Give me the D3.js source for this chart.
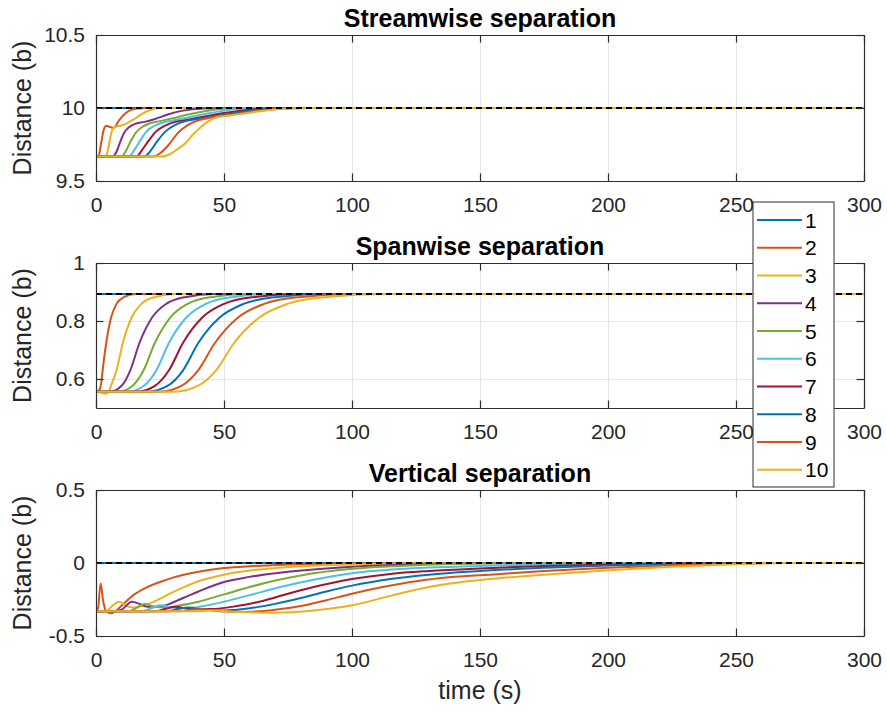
<!DOCTYPE html>
<html>
<head>
<meta charset="utf-8">
<script src="https://cdn.jsdelivr.net/npm/d3@7"></script>
<style>
  body { margin: 0; background: #fff; }
  svg { font-family: "Liberation Sans", Arial, Helvetica, sans-serif; }
  .grid line { stroke: #e6e6e6; stroke-width: 1; }
  .grid .domain { display: none; }
  .frame .domain, .frame line { stroke: #2e2e2e; stroke-width: 1.2; }
  .frame text { fill: #262626; font-size: 21px; }
</style>
</head>
<body>
<div id="chart"></div>
<script>
// ---- data ----
var timeTicks = [0, 50, 100, 150, 200, 250, 300];
var seriesNames = ["1", "2", "3", "4", "5", "6", "7", "8", "9", "10"];
var seriesColors = ["#0072BD", "#D95319", "#EDB120", "#7E2F8E", "#77AC30",
                    "#4DBEEE", "#A2142F", "#0072BD", "#D95319", "#EDB120"];

var streamTicks = [9.5, 10, 10.5];
var spanTicks = [0.6, 0.8, 1];
var vertTicks = [-0.5, 0, 0.5];

var streamTarget = 10;
var spanTarget = 0.893;
var vertTarget = 0;

// [time, distance] for each vehicle
var streamwise = [
  [[0,10],[300,10]],
  [[0,9.668],[1,9.67],[2,9.76],[3,9.85],[4,9.878],[5.5,9.87],[7,9.865],[9,9.915],[11,9.955],[13,9.982],[16,9.997],[20,10],[300,10]],
  [[0,9.668],[3.5,9.668],[4.5,9.70],[5.5,9.79],[6.5,9.855],[8,9.872],[10,9.88],[12.5,9.9],[15,9.925],[18,9.96],[21,9.985],[25,10],[300,10]],
  [[0,9.668],[6.5,9.668],[8,9.7],[9.5,9.77],[11,9.83],[13,9.87],[15,9.89],[19,9.905],[23,9.925],[28,9.955],[34,9.982],[42,9.997],[50,10],[300,10]],
  [[0,9.668],[10,9.668],[11.5,9.7],[13.5,9.77],[15.5,9.83],[18,9.87],[21,9.895],[25,9.91],[30,9.93],[36,9.955],[43,9.98],[50,9.995],[58,10],[300,10]],
  [[0,9.668],[13,9.668],[14.5,9.7],[17,9.77],[19.5,9.835],[22.5,9.875],[26,9.9],[30,9.915],[36,9.935],[43,9.96],[50,9.982],[58,9.996],[65,10],[300,10]],
  [[0,9.668],[16,9.668],[17.5,9.7],[20.5,9.775],[23.5,9.84],[27,9.88],[31,9.905],[36,9.92],[42,9.94],[50,9.965],[58,9.985],[66,9.997],[72,10],[300,10]],
  [[0,9.668],[19,9.668],[21,9.7],[24,9.775],[27.5,9.845],[31,9.885],[35,9.91],[40,9.925],[47,9.945],[55,9.968],[63,9.988],[72,9.998],[78,10],[300,10]],
  [[0,9.668],[22.5,9.668],[25,9.69],[28.5,9.75],[32,9.83],[36,9.885],[40,9.915],[45,9.935],[52,9.95],[60,9.972],[68,9.99],[76,9.998],[82,10],[300,10]],
  [[0,9.668],[26,9.668],[29,9.685],[32,9.72],[35,9.76],[38,9.82],[41,9.87],[44,9.91],[47,9.935],[52,9.948],[60,9.968],[68,9.987],[76,9.997],[84,10],[300,10]]
];

var spanwise = [
  [[0,0.893],[300,0.893]],
  [[0,0.556],[1.3,0.562],[2.1,0.59],[2.6,0.63],[4,0.725],[5.9,0.812],[8,0.859],[11,0.883],[15.3,0.893],[300,0.893]],
  [[0,0.556],[2.5,0.552],[3.8,0.549],[5,0.558],[6,0.58],[8,0.63],[10.5,0.725],[13.9,0.812],[17.7,0.859],[23.1,0.883],[31,0.893],[300,0.893]],
  [[0,0.556],[5.3,0.556],[9.9,0.576],[13.4,0.63],[17,0.725],[21.9,0.812],[27.4,0.859],[35.2,0.883],[46.3,0.893],[300,0.893]],
  [[0,0.556],[8.6,0.556],[14.2,0.576],[18.6,0.63],[23,0.725],[29,0.812],[35.8,0.859],[45.4,0.883],[59,0.893],[300,0.893]],
  [[0,0.556],[12.3,0.556],[18.6,0.576],[23.6,0.63],[28.5,0.725],[35.3,0.812],[42.9,0.859],[53.7,0.883],[69,0.893],[300,0.893]],
  [[0,0.556],[16,0.556],[23,0.576],[28.5,0.63],[34,0.725],[41.5,0.812],[50,0.859],[62,0.883],[79,0.893],[300,0.893]],
  [[0,0.556],[20.2,0.556],[27.9,0.576],[34,0.63],[40,0.725],[48.3,0.812],[57.6,0.859],[70.8,0.883],[89.5,0.893],[300,0.893]],
  [[0,0.556],[24.9,0.556],[33.3,0.576],[39.9,0.63],[46.5,0.725],[55.5,0.812],[65.7,0.859],[80.1,0.883],[100.5,0.893],[300,0.893]],
  [[0,0.556],[30.6,0.556],[39.7,0.576],[46.9,0.63],[54,0.725],[63.8,0.812],[74.8,0.859],[90.4,0.883],[112.5,0.893],[300,0.893]]
];

var vertical = [
  [[0,0],[300,0]],
  [[0,-0.33],[0.8,-0.31],[1.8,-0.14],[2.8,-0.26],[4,-0.33],[6,-0.345],[8,-0.325],[11,-0.275],[15,-0.215],[20,-0.165],[25,-0.13],[30,-0.1],[40,-0.06],[50,-0.035],[60,-0.022],[75,-0.011],[100,-0.003],[130,0],[300,0]],
  [[0,-0.33],[4,-0.33],[6,-0.30],[9,-0.265],[12,-0.295],[15,-0.305],[18,-0.295],[22,-0.27],[26,-0.235],[30,-0.2],[35,-0.16],[40,-0.125],[50,-0.08],[60,-0.052],[75,-0.028],[100,-0.01],[130,-0.002],[160,0],[300,0]],
  [[0,-0.33],[8,-0.33],[10,-0.32],[14,-0.265],[17,-0.28],[20,-0.30],[24,-0.30],[28,-0.285],[32,-0.255],[36,-0.225],[40,-0.195],[50,-0.13],[60,-0.095],[75,-0.06],[100,-0.025],[130,-0.007],[160,0],[300,0]],
  [[0,-0.33],[13,-0.33],[15,-0.315],[19,-0.28],[23,-0.30],[28,-0.305],[33,-0.29],[40,-0.265],[50,-0.215],[60,-0.165],[70,-0.12],[80,-0.085],[100,-0.04],[125,-0.015],[150,-0.004],[175,0],[300,0]],
  [[0,-0.33],[18,-0.33],[21,-0.315],[25,-0.29],[30,-0.305],[36,-0.31],[42,-0.295],[50,-0.265],[60,-0.22],[72,-0.165],[85,-0.115],[100,-0.07],[125,-0.035],[150,-0.02],[175,-0.008],[200,-0.002],[225,0],[300,0]],
  [[0,-0.33],[23,-0.33],[27,-0.315],[31,-0.30],[37,-0.315],[45,-0.315],[55,-0.295],[65,-0.26],[75,-0.21],[85,-0.165],[100,-0.11],[115,-0.075],[130,-0.055],[150,-0.037],[175,-0.02],[200,-0.01],[225,-0.003],[250,0],[300,0]],
  [[0,-0.33],[28,-0.33],[32,-0.315],[36,-0.305],[42,-0.32],[50,-0.325],[60,-0.31],[70,-0.28],[80,-0.24],[90,-0.195],[100,-0.155],[115,-0.11],[130,-0.08],[150,-0.055],[175,-0.032],[200,-0.017],[225,-0.007],[250,-0.001],[270,0],[300,0]],
  [[0,-0.33],[33,-0.33],[37,-0.32],[41,-0.315],[48,-0.33],[58,-0.335],[70,-0.32],[80,-0.295],[90,-0.255],[100,-0.21],[112,-0.165],[125,-0.125],[140,-0.095],[158,-0.075],[175,-0.055],[200,-0.032],[225,-0.015],[250,-0.004],[270,0],[300,0]],
  [[0,-0.33],[40,-0.33],[46,-0.325],[55,-0.335],[70,-0.34],[85,-0.325],[100,-0.29],[115,-0.225],[130,-0.165],[145,-0.125],[160,-0.1],[175,-0.08],[200,-0.05],[225,-0.025],[250,-0.008],[265,0],[300,0]]
];

// ---- layout ----
var W = 887, H = 713;
var left = 96, right = 864, tickLen = 7.5;

var svg = d3.select("#chart").append("svg")
  .attr("width", W).attr("height", H);

var x = d3.scaleLinear().domain([0, 300]).range([left, right]);

function drawPanel(id, top, bottom, yDomain, yTicks, data, target, title) {
  var y = d3.scaleLinear().domain(yDomain).range([bottom, top]);
  var h = bottom - top;
  var g = svg.append("g").attr("class", "panel");

  g.append("clipPath").attr("id", "clip" + id)
    .append("rect").attr("x", left).attr("y", top)
    .attr("width", right - left).attr("height", h);

  // grid
  g.append("g").attr("class", "grid")
    .attr("transform", "translate(0," + bottom + ")")
    .call(d3.axisBottom(x).tickValues(timeTicks).tickSize(-h).tickFormat(""));
  g.append("g").attr("class", "grid")
    .attr("transform", "translate(" + left + ",0)")
    .call(d3.axisLeft(y).tickValues(yTicks).tickSize(-(right - left)).tickFormat(""));

  var line = d3.line()
    .x(function(d){ return x(d[0]); })
    .y(function(d){ return y(d[1]); })
    .curve(d3.curveMonotoneX);

  var lines = g.append("g").attr("clip-path", "url(#clip" + id + ")");
  lines.selectAll(".series")
    .data(data)
    .enter().append("path")
    .attr("class", "series")
    .attr("fill", "none")
    .attr("stroke", function(d, i){ return seriesColors[i]; })
    .attr("stroke-width", 2)
    .attr("d", line);

  lines.append("path")
    .datum([[0, target], [300, target]])
    .attr("fill", "none")
    .attr("stroke", "#000")
    .attr("stroke-width", 2)
    .attr("stroke-dasharray", "6,4")
    .attr("d", line);

  // frame + ticks
  g.append("g").attr("class", "frame")
    .attr("transform", "translate(0," + bottom + ")")
    .call(d3.axisBottom(x).tickValues(timeTicks).tickSizeInner(-tickLen).tickSizeOuter(0)
      .tickPadding(16.5).tickFormat(function(d){ return String(d); }));
  g.append("g").attr("class", "frame")
    .attr("transform", "translate(0," + top + ")")
    .call(d3.axisTop(x).tickValues(timeTicks).tickSizeInner(-tickLen).tickSizeOuter(0).tickFormat(""));
  g.append("g").attr("class", "frame")
    .attr("transform", "translate(" + left + ",0)")
    .call(d3.axisLeft(y).tickValues(yTicks).tickSizeInner(-tickLen).tickSizeOuter(0)
      .tickPadding(11).tickFormat(function(d){ return String(d); }));
  g.append("g").attr("class", "frame")
    .attr("transform", "translate(" + right + ",0)")
    .call(d3.axisRight(y).tickValues(yTicks).tickSizeInner(-tickLen).tickSizeOuter(0).tickFormat(""));

  g.selectAll(".frame text").attr("font-family", null).attr("font-size", null);

  g.append("text")
    .attr("x", (left + right) / 2).attr("y", top - 8)
    .attr("text-anchor", "middle")
    .attr("font-size", 25).attr("font-weight", "bold").attr("fill", "#000")
    .text(title);

  g.append("text")
    .attr("transform", "translate(31," + ((top + bottom) / 2) + ") rotate(-90)")
    .attr("text-anchor", "middle")
    .attr("font-size", 25).attr("fill", "#262626")
    .text("Distance (b)");
}

drawPanel("a", 35, 181, [9.5, 10.5], streamTicks, streamwise, streamTarget, "Streamwise separation");
drawPanel("b", 263, 408, [0.5, 1], spanTicks, spanwise, spanTarget, "Spanwise separation");
drawPanel("c", 490, 636, [-0.5, 0.5], vertTicks, vertical, vertTarget, "Vertical separation");

svg.append("text")
  .attr("x", (left + right) / 2).attr("y", 699)
  .attr("text-anchor", "middle")
  .attr("font-size", 25).attr("fill", "#262626")
  .text("time (s)");

// ---- legend ----
var lg = svg.append("g").attr("transform", "translate(753,202)");
lg.append("rect")
  .attr("width", 81).attr("height", 285)
  .attr("fill", "#fff").attr("stroke", "#2e2e2e").attr("stroke-width", 1);

var item = lg.selectAll(".item")
  .data(seriesNames)
  .enter().append("g")
  .attr("class", "item")
  .attr("transform", function(d, i){ return "translate(0," + (18 + i * 27.75) + ")"; });
item.append("line")
  .attr("x1", 4).attr("x2", 49)
  .attr("stroke", function(d, i){ return seriesColors[i]; })
  .attr("stroke-width", 2);
item.append("text")
  .attr("x", 52).attr("y", 7.5)
  .attr("font-size", 21).attr("fill", "#000")
  .text(function(d){ return d; });
</script>
</body>
</html>
